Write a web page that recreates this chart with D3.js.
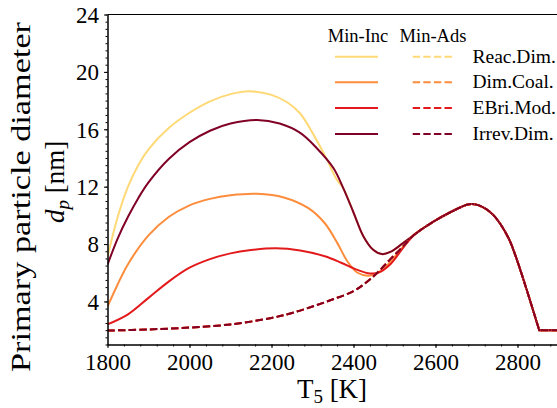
<!DOCTYPE html>
<html>
<head>
<title>Primary particle diameter</title>
<script src="https://d3js.org/d3.v7.min.js"></script>
<style>
    body { margin: 0; background: #fff; }
    text { font-family: "Liberation Serif", "DejaVu Serif", serif; fill: #000; }
    .axis path, .axis line { stroke: #000; stroke-width: 1; }
</style>
</head>
<body>
<script>
    // [T5 (K), dp (nm)]
    const reacInc = [[1800,7.1],[1825,9.9],[1850,12.0],[1875,13.5],[1900,14.6],[1950,16.1],[2000,17.15],
        [2050,17.95],[2100,18.45],[2145,18.65],[2200,18.4],[2240,17.85],[2270,17.1],[2300,15.75],
        [2335,13.9],[2359,12.5]];
    const irrevInc = [[1800,6.56],[1825,8.4],[1850,9.9],[1875,11.2],[1900,12.3],[1950,13.95],[2000,15.1],
        [2050,15.9],[2100,16.4],[2165,16.65],[2220,16.4],[2270,15.75],[2310,14.7],[2351,13.3],
        [2375,11.9],[2400,10.2],[2424,8.55],[2448,7.6],[2469,7.3],[2490,7.45],[2520,8.05]];
    const coalInc = [[1800,3.64],[1825,5.2],[1850,6.6],[1900,8.6],[1950,9.9],[2000,10.7],[2050,11.15],
        [2100,11.4],[2165,11.5],[2230,11.25],[2290,10.5],[2330,9.45],[2360,8.1],[2385,6.8],[2410,6.0],
        [2440,5.8],[2470,6.2],[2500,7.1],[2525,7.95]];
    const ebriInc = [[1800,2.4],[1850,3.1],[1900,4.25],[1950,5.4],[2000,6.35],[2050,6.95],[2100,7.35],
        [2150,7.58],[2210,7.7],[2270,7.55],[2330,7.15],[2370,6.7],[2410,6.2],[2440,5.95],[2460,6.0],
        [2490,6.6],[2520,7.7]];
    const minAds = [[1800,1.97],[1900,2.05],[2000,2.18],[2100,2.4],[2200,2.85],[2250,3.2],[2300,3.65],
        [2350,4.15],[2400,4.72],[2430,5.3],[2460,6.05],[2490,6.95],[2520,7.8]];
    // common tail shared by every case above ~2540 K (flat at 2 nm past the corner)
    const tail = [[2546,8.6],[2570,9.1],[2600,9.65],[2635,10.2],[2660,10.55],[2682,10.78],[2700,10.75],
        [2720,10.5],[2740,10.05],[2757,9.45],[2780,8.3],[2798,6.95],[2822,4.85],[2840,3.2],[2853,2.0]];
    const flatEnd = [2900, 2.0];

    const models = ["Reac.Dim.", "Dim.Coal.", "EBri.Mod.", "Irrev.Dim."];
    const colors = ["#fed976", "#fd8d3c", "#e31a1c", "#800026"];
    // the yellow curve follows the dark one once they meet
    const incSeries = [
        reacInc.concat(irrevInc.filter(d => d[0] >= 2375)).concat(tail),
        coalInc.concat(tail),
        ebriInc.concat(tail),
        irrevInc.concat(tail)
    ];
    const adsSeries = models.map(() => minAds.concat(tail));

    const xTicks = [1800, 2000, 2200, 2400, 2600, 2800];
    const yTicks = [4, 8, 12, 16, 20, 24];

    const width = 557, height = 408;
    const margin = {left: 107.5, top: 14.5, right: -1.5, bottom: 63.5};

    const x = d3.scaleLinear().domain([1800, 2900]).range([margin.left, width - margin.right]);
    const y = d3.scaleLinear().domain([1, 24]).range([height - margin.bottom, margin.top]);

    const svg = d3.select("body").append("svg")
        .attr("width", width).attr("height", height);

    svg.append("clipPath").attr("id", "clip").append("rect")
        .attr("x", x(1800)).attr("y", y(24))
        .attr("width", x(2900) - x(1800)).attr("height", y(1) - y(24));

    const line = d3.line().x(d => x(d[0])).y(d => y(d[1])).curve(d3.curveCatmullRom.alpha(0.5));
    // smooth body, then a straight run along the 2 nm floor so the corner stays sharp
    const pathOf = s => line(s) + "L" + x(flatEnd[0]) + "," + y(flatEnd[1]);

    const plot = svg.append("g").attr("clip-path", "url(#clip)");
    incSeries.forEach((s, i) => {
        plot.append("path").attr("d", pathOf(s))
            .attr("fill", "none").attr("stroke", colors[i]).attr("stroke-width", 2);
    });
    adsSeries.forEach((s, i) => {
        plot.append("path").attr("d", pathOf(s))
            .attr("fill", "none").attr("stroke", colors[i]).attr("stroke-width", 2)
            .attr("stroke-dasharray", "7.4,3.2");
    });

    // minor ticks
    svg.append("g").attr("class", "axis")
        .attr("transform", `translate(0,${y(1)})`)
        .call(d3.axisBottom(x).tickValues(d3.range(1800, 2900, 40)).tickSize(2).tickSizeOuter(0).tickFormat(""));
    svg.append("g").attr("class", "axis")
        .attr("transform", `translate(${x(1800)},0)`)
        .call(d3.axisLeft(y).tickValues(d3.range(1, 24.01, 0.5)).tickSize(2).tickSizeOuter(0).tickFormat(""));

    // major ticks
    const xAxis = svg.append("g").attr("class", "axis")
        .attr("transform", `translate(0,${y(1)})`)
        .call(d3.axisBottom(x).tickValues(xTicks).tickFormat(d3.format("d"))
            .tickSize(3.5).tickSizeOuter(0).tickPadding(6));
    const yAxis = svg.append("g").attr("class", "axis")
        .attr("transform", `translate(${x(1800)},0)`)
        .call(d3.axisLeft(y).tickValues(yTicks).tickFormat(d3.format("d"))
            .tickSize(3.5).tickSizeOuter(0).tickPadding(5));
    xAxis.selectAll("text").attr("font-size", 23).attr("font-family", null);
    yAxis.selectAll("text").attr("font-size", 23).attr("font-family", null).attr("dy", "0.34em");

    // top spine
    svg.append("line").attr("x1", x(1800)).attr("x2", x(2900)).attr("y1", y(24)).attr("y2", y(24))
        .attr("stroke", "#000").attr("stroke-width", 1);

    // axis labels
    const xl = svg.append("text").attr("x", 332).attr("y", 398).attr("text-anchor", "middle").attr("font-size", 27);
    xl.append("tspan").text("T");
    xl.append("tspan").attr("font-size", 19).attr("dy", 5).text("5");
    xl.append("tspan").attr("dy", -5).text(" [K]");

    const yl = svg.append("g").attr("transform", "rotate(-90)");
    yl.append("text").attr("x", -197).attr("y", 30).attr("text-anchor", "middle").attr("font-size", 27)
        .attr("textLength", 350).attr("lengthAdjust", "spacingAndGlyphs")
        .text("Primary particle diameter");
    const yl2 = yl.append("text").attr("x", -182).attr("y", 64).attr("text-anchor", "middle").attr("font-size", 27);
    yl2.append("tspan").attr("font-style", "italic").text("d");
    yl2.append("tspan").attr("font-style", "italic").attr("font-size", 19).attr("dy", 5).text("p");
    yl2.append("tspan").attr("dy", -5).text(" [nm]");

    // legend
    const leg = svg.append("g");
    leg.append("text").attr("x", 358).attr("y", 41.5).attr("text-anchor", "middle").attr("font-size", 18.5).text("Min-Inc");
    leg.append("text").attr("x", 433).attr("y", 41.5).attr("text-anchor", "middle").attr("font-size", 18.5).text("Min-Ads");
    const rowY = [56.7, 82.3, 108, 134];
    models.forEach((m, i) => {
        leg.append("line").attr("x1", 335).attr("x2", 378).attr("y1", rowY[i]).attr("y2", rowY[i])
            .attr("stroke", colors[i]).attr("stroke-width", 2);
        leg.append("line").attr("x1", 412.7).attr("x2", 452.7).attr("y1", rowY[i]).attr("y2", rowY[i])
            .attr("stroke", colors[i]).attr("stroke-width", 2).attr("stroke-dasharray", "7.4,3.2");
        leg.append("text").attr("x", 472.5).attr("y", rowY[i] + 6).attr("font-size", 19.5).text(m);
    });
</script>
</body>
</html>
